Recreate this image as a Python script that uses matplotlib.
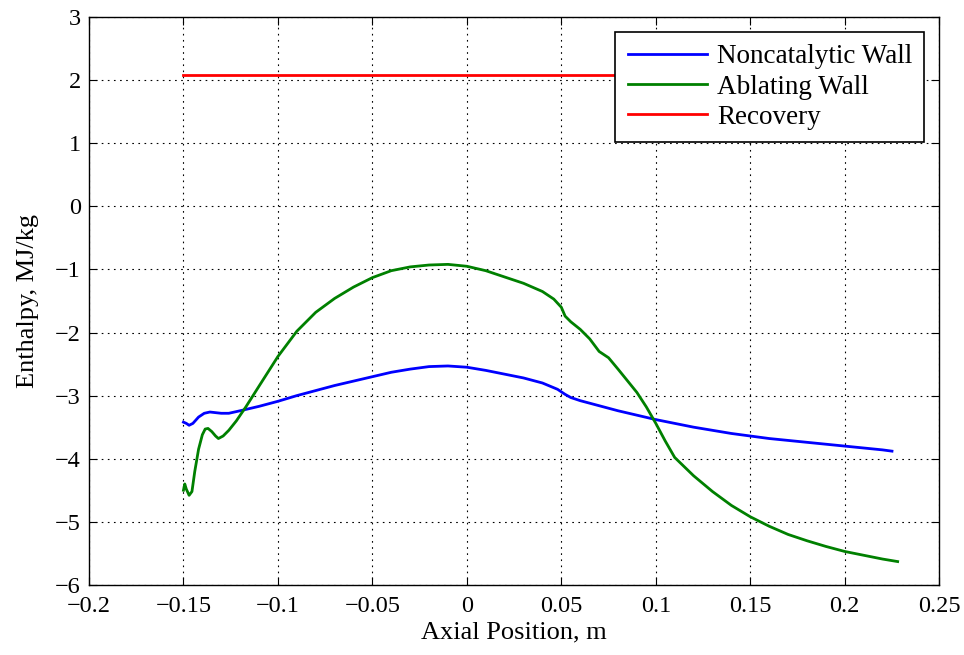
import matplotlib.pyplot as plt

plt.rcParams['font.family'] = ['Liberation Serif', 'DejaVu Serif']

# wall enthalpy along the body
x_noncat = [-0.150, -0.1485, -0.147, -0.145, -0.142, -0.139, -0.136, -0.133, -0.130, -0.126,
            -0.120, -0.110, -0.100, -0.090, -0.080, -0.070, -0.060, -0.050, -0.040, -0.030,
            -0.020, -0.010, 0.000, 0.010, 0.020, 0.030, 0.040, 0.048, 0.052, 0.055,
            0.060, 0.070, 0.080, 0.090, 0.100, 0.110, 0.120, 0.130, 0.140, 0.150,
            0.160, 0.170, 0.180, 0.190, 0.200, 0.210, 0.220, 0.225]
h_noncat = [-3.42, -3.44, -3.47, -3.44, -3.34, -3.28, -3.26, -3.27, -3.28, -3.28,
            -3.24, -3.17, -3.09, -3.00, -2.92, -2.84, -2.77, -2.70, -2.63, -2.58,
            -2.54, -2.53, -2.55, -2.60, -2.66, -2.72, -2.80, -2.90, -2.98, -3.03,
            -3.08, -3.16, -3.24, -3.31, -3.38, -3.44, -3.50, -3.55, -3.60, -3.64,
            -3.68, -3.71, -3.74, -3.77, -3.80, -3.83, -3.86, -3.88]

x_ablate = [-0.150, -0.1493, -0.1485, -0.147, -0.1455, -0.144, -0.142, -0.140, -0.1385, -0.137,
            -0.135, -0.133, -0.1315, -0.129, -0.126, -0.122, -0.117, -0.110, -0.100, -0.090,
            -0.080, -0.070, -0.060, -0.050, -0.040, -0.030, -0.020, -0.010, 0.000, 0.010,
            0.020, 0.030, 0.040, 0.046, 0.050, 0.052, 0.055, 0.060, 0.065, 0.070,
            0.075, 0.080, 0.090, 0.095, 0.100, 0.105, 0.110, 0.120, 0.130, 0.140,
            0.150, 0.160, 0.170, 0.180, 0.190, 0.200, 0.210, 0.220, 0.228]
h_ablate = [-4.50, -4.40, -4.48, -4.58, -4.52, -4.20, -3.85, -3.62, -3.53, -3.52,
            -3.57, -3.64, -3.68, -3.64, -3.55, -3.40, -3.18, -2.85, -2.38, -1.98,
            -1.68, -1.46, -1.28, -1.13, -1.02, -0.96, -0.93, -0.92, -0.95, -1.02,
            -1.12, -1.22, -1.35, -1.47, -1.60, -1.74, -1.83, -1.95, -2.10, -2.30,
            -2.40, -2.58, -2.95, -3.18, -3.44, -3.72, -3.98, -4.27, -4.52, -4.74,
            -4.92, -5.07, -5.20, -5.30, -5.39, -5.47, -5.53, -5.59, -5.63]

x_recovery = [-0.150, 0.228]
h_recovery = [2.08, 2.08]

fig = plt.figure(figsize=(9.64, 6.55), dpi=100)
ax = fig.add_axes([0.0923, 0.107, 0.882, 0.867])

ax.plot(x_noncat, h_noncat, color='#0000ff', lw=2.0, label='Noncatalytic Wall')
ax.plot(x_ablate, h_ablate, color='#008000', lw=2.0, label='Ablating Wall')
ax.plot(x_recovery, h_recovery, color='#ff0000', lw=2.0, label='Recovery')

ax.set_xlim(-0.2, 0.25)
ax.set_ylim(-6, 3)
xt = [-0.2, -0.15, -0.1, -0.05, 0, 0.05, 0.1, 0.15, 0.2, 0.25]
xl = ['\u22120.2', '\u22120.15', '\u22120.1', '\u22120.05', '0', '0.05', '0.1', '0.15', '0.2', '0.25']
ax.set_xticks(xt)
ax.set_xticklabels(xl)
yt = list(range(-6, 4))
ax.set_yticks(yt)
ax.set_yticklabels([str(v).replace('-', '\u2212') for v in yt])
ax.tick_params(direction='in', top=True, right=True, labelsize=17.5, length=6)
ax.tick_params(axis='x', pad=8)
ax.tick_params(axis='y', pad=6)
ax.grid(True, color='black', linestyle=(0, (1.5, 4)), linewidth=0.8)
for s in ax.spines.values():
    s.set_linewidth(1.0)

ax.set_xlabel('Axial Position, m', fontsize=19, labelpad=3)
ax.set_ylabel('Enthalpy, MJ/kg', fontsize=19, labelpad=11)

leg = ax.legend(loc='upper right', fontsize=19.5, fancybox=False, framealpha=1,
                edgecolor='black', borderaxespad=0.55, handlelength=2.95,
                handletextpad=0.35, labelspacing=0.2, borderpad=0.45)
leg.get_frame().set_linewidth(1.2)

fig.savefig('out.png', dpi=100)
